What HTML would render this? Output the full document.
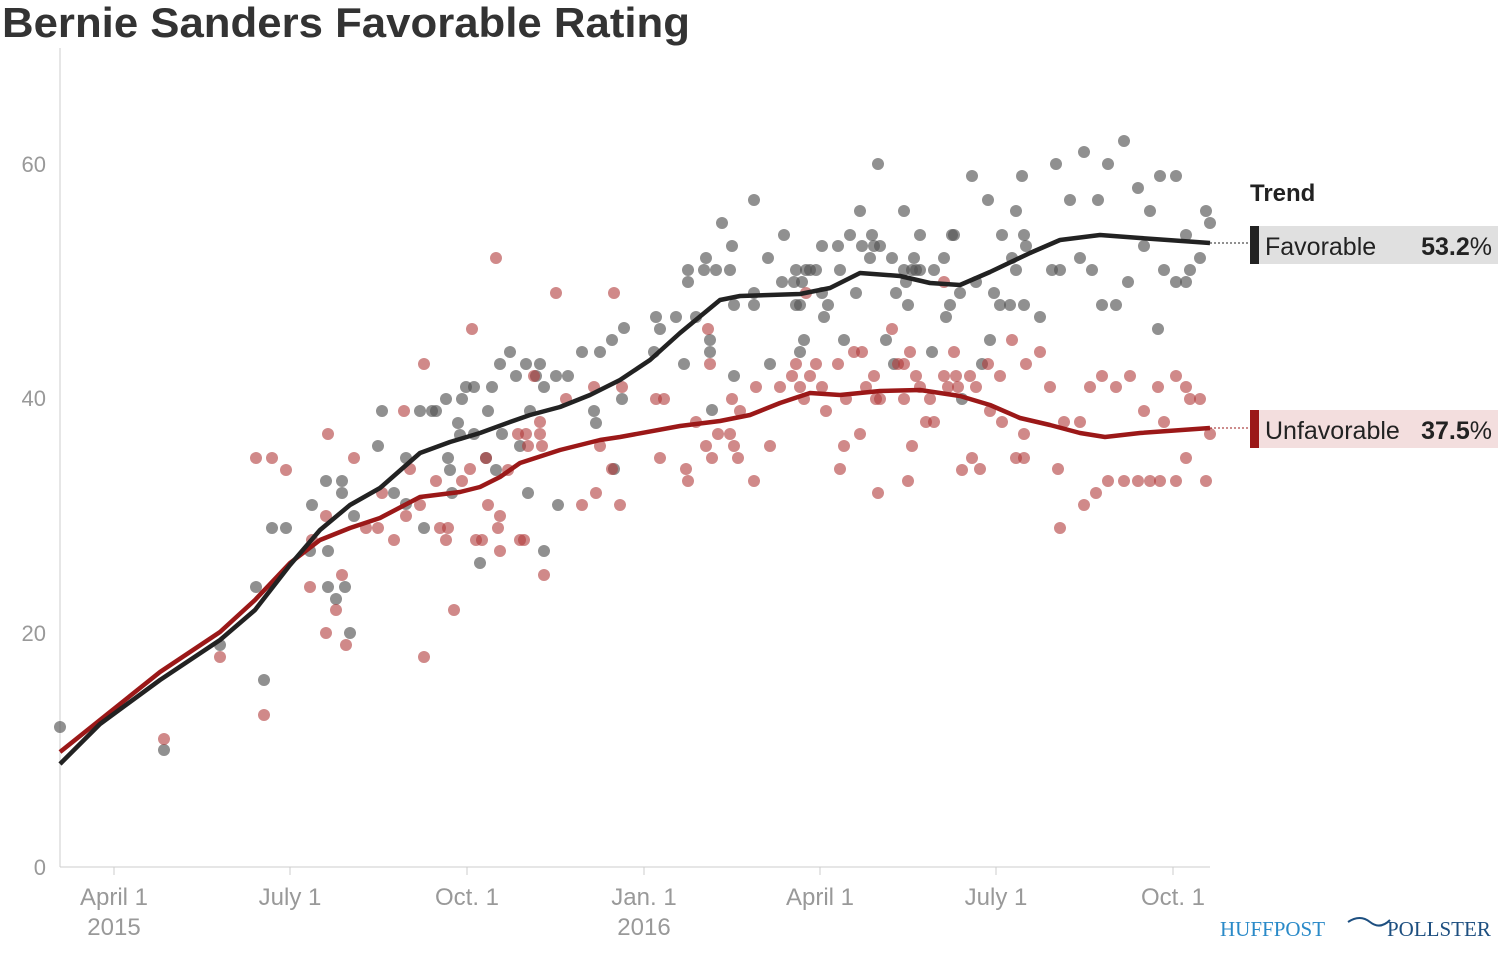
<!DOCTYPE html><html><head><meta charset="utf-8"><style>
body{margin:0;background:#fff;width:1500px;height:948px;overflow:hidden;font-family:"Liberation Sans",sans-serif}
</style></head><body>
<svg width="1500" height="948" xmlns="http://www.w3.org/2000/svg" font-family="Liberation Sans, sans-serif">
<text x="2" y="37" font-size="42" font-weight="bold" fill="#333" textLength="688" lengthAdjust="spacingAndGlyphs">Bernie Sanders Favorable Rating</text>
<line x1="60" y1="48" x2="60" y2="867" stroke="#ccc"/>
<line x1="60" y1="867" x2="1210" y2="867" stroke="#ccc"/>
<g fill="#999" font-size="22" text-anchor="end">
<text x="46" y="875">0</text><text x="46" y="641">20</text><text x="46" y="406">40</text><text x="46" y="172">60</text></g>
<g stroke="#ccc"><line x1="114" y1="867" x2="114" y2="875"/><line x1="290" y1="867" x2="290" y2="875"/><line x1="467" y1="867" x2="467" y2="875"/><line x1="644" y1="867" x2="644" y2="875"/><line x1="820" y1="867" x2="820" y2="875"/><line x1="996" y1="867" x2="996" y2="875"/><line x1="1173" y1="867" x2="1173" y2="875"/></g>
<g fill="#999" font-size="24" text-anchor="middle">
<text x="114" y="905">April 1</text><text x="114" y="935">2015</text><text x="290" y="905">July 1</text><text x="467" y="905">Oct. 1</text><text x="644" y="905">Jan. 1</text><text x="644" y="935">2016</text><text x="820" y="905">April 1</text><text x="996" y="905">July 1</text><text x="1173" y="905">Oct. 1</text></g>
<g id="pts"></g>
<polyline fill="none" stroke="#9b1818" stroke-width="4.5" stroke-linejoin="round" points="60,752 100,720 160,672 220,632 255,600 290,563 320,540 350,528 380,518 420,497 460,492 480,487 500,477 520,463 560,450 600,440 620,437 680,426 720,421 750,415 780,403 810,393 840,395 880,391 920,390 960,396 990,405 1020,418 1050,425 1080,433 1105,437 1140,433 1210,428"/>
<polyline fill="none" stroke="#222" stroke-width="4.5" stroke-linejoin="round" points="60,764 100,724 160,680 220,640 255,610 290,565 320,530 350,505 380,488 420,453 450,442 480,433 510,422 530,415 560,407 590,395 620,380 650,360 680,333 720,300 740,296 800,294 830,288 860,273 900,276 930,283 960,285 990,272 1030,253 1060,240 1100,235 1140,238 1210,243"/>
<line x1="1210" y1="243" x2="1250" y2="243" stroke="#222" stroke-dasharray="2,2"/>
<line x1="1210" y1="428" x2="1250" y2="428" stroke="#9b1818" stroke-dasharray="2,2"/>
<text x="1250" y="201" font-size="24" font-weight="bold" fill="#222">Trend</text>
<rect x="1250" y="226" width="248" height="38" fill="#e0e0e0"/><rect x="1250" y="226" width="9" height="38" fill="#222"/>
<text x="1265" y="255" font-size="25" fill="#222">Favorable</text><text x="1492" y="255" font-size="25" fill="#222" text-anchor="end"><tspan font-weight="bold">53.2</tspan>%</text>
<rect x="1250" y="410" width="248" height="38" fill="#f3dede"/><rect x="1250" y="410" width="9" height="38" fill="#9b1818"/>
<text x="1265" y="439" font-size="25" fill="#222">Unfavorable</text><text x="1492" y="439" font-size="25" fill="#222" text-anchor="end"><tspan font-weight="bold">37.5</tspan>%</text>
<text x="1220" y="936" font-size="21" font-family="Liberation Serif, serif" fill="#2a8ac8">HUFFPOST</text>
<path d="M1348 922 q12 -8 22 0 q10 8 20 -2" fill="none" stroke="#1d4f80" stroke-width="2"/>
<text x="1387" y="936" font-size="21" font-family="Liberation Serif, serif" fill="#1d4f80">POLLSTER</text>
</svg>
<script>
var g=[[60,727],[164,750],[220,645],[256,587],[264,680],[272,528],[286,528],[312,505],[310,551],[326,481],[328,551],[328,587],[336,599],[342,481],[342,493],[345,587],[350,633],[354,516],[378,446],[382,411],[394,493],[406,458],[406,504],[420,411],[424,528],[432,411],[436,411],[446,399],[448,458],[450,470],[452,493],[458,423],[460,435],[462,399],[466,387],[474,387],[474,434],[480,563],[486,458],[488,411],[492,387],[496,470],[500,364],[502,434],[510,352],[516,376],[520,446],[526,364],[528,493],[530,411],[536,376],[540,364],[544,551],[544,387],[556,376],[558,505],[568,376],[582,352],[594,411],[596,423],[600,352],[612,340],[614,469],[622,399],[624,328],[654,352],[656,317],[660,329],[676,317],[684,364],[688,270],[688,282],[696,317],[704,270],[706,258],[710,340],[710,352],[712,410],[716,270],[722,223],[732,246],[730,270],[734,376],[734,305],[754,305],[754,293],[754,200],[768,258],[770,364],[782,282],[784,235],[794,282],[796,305],[796,270],[800,305],[800,352],[802,282],[804,340],[806,270],[810,270],[816,270],[822,246],[822,293],[824,317],[828,305],[838,246],[840,270],[844,340],[850,235],[856,293],[860,211],[862,246],[870,258],[872,235],[874,246],[878,164],[880,246],[886,340],[892,258],[894,364],[896,293],[904,270],[904,211],[906,282],[908,305],[912,270],[914,258],[916,270],[920,235],[920,270],[932,352],[934,270],[944,258],[946,317],[950,305],[952,235],[954,235],[960,293],[962,399],[972,176],[976,282],[982,364],[988,200],[990,340],[994,293],[1000,305],[1002,235],[1010,305],[1012,258],[1016,211],[1016,270],[1022,176],[1024,235],[1024,305],[1026,246],[1040,317],[1052,270],[1056,164],[1060,270],[1070,200],[1080,258],[1084,152],[1092,270],[1098,200],[1102,305],[1108,164],[1116,305],[1124,141],[1128,282],[1138,188],[1144,246],[1150,211],[1158,329],[1160,176],[1164,270],[1176,176],[1176,282],[1186,282],[1190,270],[1186,235],[1200,258],[1206,211],[1210,223]];
var r=[[164,739],[220,657],[256,458],[264,715],[272,458],[286,470],[310,587],[312,540],[326,516],[326,633],[328,434],[336,610],[342,575],[346,645],[354,458],[366,528],[378,528],[382,493],[394,540],[404,411],[406,516],[410,469],[420,505],[424,657],[424,364],[436,481],[440,528],[446,540],[448,528],[454,610],[462,481],[470,469],[472,329],[476,540],[482,540],[486,458],[488,505],[496,258],[498,528],[500,516],[500,551],[508,470],[518,434],[520,540],[524,540],[526,434],[528,446],[534,376],[540,422],[540,434],[542,446],[544,575],[556,293],[566,399],[582,505],[594,387],[596,493],[600,446],[612,469],[614,293],[620,505],[622,387],[656,399],[660,458],[664,399],[686,469],[688,481],[696,422],[706,446],[708,329],[710,364],[712,458],[718,434],[730,434],[732,399],[734,446],[738,458],[740,411],[754,481],[756,387],[770,446],[780,387],[792,376],[796,364],[800,387],[804,399],[806,293],[810,376],[816,364],[822,387],[826,411],[838,364],[840,469],[844,446],[846,399],[854,352],[860,434],[862,352],[866,387],[874,376],[876,399],[878,493],[880,399],[892,329],[898,364],[904,364],[904,399],[908,481],[910,352],[912,446],[916,376],[920,387],[926,422],[930,399],[934,422],[944,282],[944,376],[948,387],[954,352],[956,376],[958,387],[962,470],[970,376],[972,458],[976,387],[980,469],[988,364],[990,411],[1000,376],[1002,422],[1012,340],[1016,458],[1024,458],[1024,434],[1026,364],[1040,352],[1050,387],[1058,469],[1060,528],[1064,422],[1080,422],[1084,505],[1090,387],[1096,493],[1102,376],[1108,481],[1116,387],[1124,481],[1130,376],[1138,481],[1144,411],[1150,481],[1158,387],[1160,481],[1164,422],[1176,376],[1176,481],[1186,387],[1186,458],[1190,399],[1200,399],[1206,481],[1210,434]];
var s='';g.forEach(function(p){s+='<circle cx="'+p[0]+'" cy="'+p[1]+'" r="6" fill="#555" fill-opacity="0.65"/>'});
r.forEach(function(p){s+='<circle cx="'+p[0]+'" cy="'+p[1]+'" r="6" fill="#b03a3a" fill-opacity="0.6"/>'});
document.getElementById('pts').innerHTML=s;
</script>
</body></html>
